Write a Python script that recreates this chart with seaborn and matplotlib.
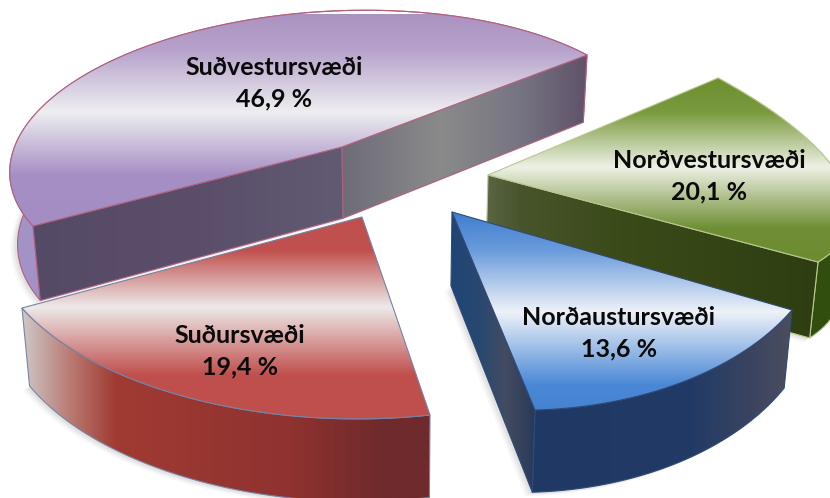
import numpy as np
import matplotlib
matplotlib.use('Agg')
import matplotlib.pyplot as plt
import seaborn as sns
from matplotlib.patches import Polygon

# ---- data ----
regions = ["Suðvestursvæði", "Suðursvæði", "Norðaustursvæði", "Norðvestursvæði"]
shares = [46.9, 19.4, 13.6, 20.1]

# ---- styling ----
start_angle = 43
apex_px = [(342, 147), (362, 217), (452, 212), (488, 175)]
tip1_px = [(587, 55), (22, 308), (535, 410), (818, 262)]
tip2_px = [(33, 226), (430, 415), (792, 310), (718, 78)]
midarc_px = [(185, 34), (190, 398), (680, 383), (846, 190)]
label_xy = [(274, 83), (240, 351), (619, 333), (709, 176)]
top_stops = [
    [(14, "#AB92C1"), (50, "#B7A2CB"), (112, "#EEEEF1"), (175, "#A68FC4"), (230, "#A48DC2")],
    [(217, "#C0504D"), (250, "#C0504D"), (307, "#EDEAEA"), (375, "#C0504D"), (420, "#BE4F4C")],
    [(212, "#3F7ECF"), (250, "#6B9BDC"), (312, "#EEF2F8"), (385, "#4A88D6"), (415, "#4583D2")],
    [(78, "#6D8F2E"), (112, "#7A9A3E"), (167, "#EEF1E6"), (228, "#708F35"), (265, "#6C8C30")],
]
edge_cols = ["#B0607F", "#7484A6", "#2F4A78", "#B9C78F"]
arc_stops = [
    [(-20, "#A797C9"), (60, "#A090C3")],
    [(20, "#CFCBCB"), (70, "#B97A72"), (115, "#A03B32"), (290, "#8F3230"), (380, "#6F2A2C"), (435, "#6E2A2C")],
    [(530, "#1F3864"), (690, "#213A66"), (750, "#3A4460"), (800, "#50505E")],
    [(700, "#2F4A12"), (860, "#33500F")],
]
flat_faces = [
    # (wedge, which tip, stops)
    (0, "tip2", [(30, "#554A65"), (200, "#5B4E6B"), (345, "#615B72")]),
    (0, "tip1", [(340, "#6E6B78"), (440, "#8A8A8A"), (520, "#777482"), (590, "#5E5068")]),
    (3, "tip1", [(485, "#5A6646"), (520, "#48552C"), (620, "#3A4A18"), (820, "#2E3E12")]),
    (2, "tip1", [(448, "#1E4478"), (480, "#294870"), (505, "#424C62"), (520, "#37435C"), (540, "#22365A")]),
]
draw_order = [0, 3, 1, 2]

sns.set_theme(style="white")
fig = plt.figure(figsize=(8.3, 4.98), dpi=100, facecolor="white")
ax = fig.add_axes([0, 0, 1, 1])

# The pie supplies each wedge's angles from the shares.
wedges, _ = ax.pie(shares, startangle=start_angle, counterclock=True)
angles = [(w.theta1, w.theta2) for w in wedges]
for w in wedges:
    w.remove()
ax.set(aspect="auto", xlim=(0, 830), ylim=(498, 0))
ax.axis("off")


def homography(src, dst):
    rows = []
    for (x, y), (u, v) in zip(src, dst):
        rows.append([x, y, 1, 0, 0, 0, -u * x, -u * y, -u])
        rows.append([0, 0, 0, x, y, 1, -v * x, -v * y, -v])
    return np.linalg.svd(np.array(rows))[2][-1].reshape(3, 3)


def project(H, t):
    t = np.radians(t)
    q = H @ np.vstack([np.cos(t), np.sin(t), np.ones_like(t)])
    return (q[:2] / q[2]).T


def extrude(p):
    p = np.atleast_2d(p)
    return np.column_stack([p[:, 0] + (400 - p[:, 0]) * 0.02, p[:, 1] + 65 + 0.042 * p[:, 1]])


def shaded(poly, stops, axis, z):
    lo, hi = stops[0][0], stops[-1][0]
    cmap = matplotlib.colors.LinearSegmentedColormap.from_list(
        "g", [((s - lo) / (hi - lo), c) for s, c in stops], N=256)
    patch = Polygon(poly, closed=True, transform=ax.transData, fc="none", ec="none")
    ax.add_patch(patch)
    grad = np.linspace(0, 1, 256)
    if axis == "y":
        img = grad[:, None]
        ext = (poly[:, 0].min() - 2, poly[:, 0].max() + 2, hi, lo)
    else:
        img = grad[None, :]
        ext = (lo, hi, poly[:, 1].max() + 2, poly[:, 1].min() - 2)
    im = ax.imshow(img, extent=ext, cmap=cmap, aspect="auto", zorder=z, vmin=0, vmax=1,
                   interpolation="bilinear", origin="upper" if axis == "y" else "lower")
    im.set_clip_path(patch)
    return patch


def outline(poly, col, z, lw=0.8):
    ax.add_patch(Polygon(poly, closed=True, fc="none", ec=col, lw=lw, zorder=z, joinstyle="round"))


z = 1
for i in draw_order:
    t1, t2 = angles[i]
    ref = [(0, 0), (np.cos(np.radians(t1)), np.sin(np.radians(t1))),
           (np.cos(np.radians(t2)), np.sin(np.radians(t2))),
           (np.cos(np.radians((t1 + t2) / 2)), np.sin(np.radians((t1 + t2) / 2)))]
    H = homography(ref, [apex_px[i], tip1_px[i], tip2_px[i], midarc_px[i]])
    arc = project(H, np.linspace(t1, t2, 200))
    apex = np.array([apex_px[i]], float)
    top = np.vstack([apex, arc])
    bottom_arc = extrude(arc)
    band = np.vstack([arc, bottom_arc[::-1]])
    low = np.vstack([extrude(apex), bottom_arc])

    # soft shadow
    for off, al in ((7, .04), (5, .06), (3, .08)):
        ax.add_patch(Polygon(low + [-off, off * .6], closed=True, fc="#555555", ec="none", alpha=al, zorder=z))
    z += 1
    shaded(band, arc_stops[i], "x", z)
    z += 1
    outline(band, edge_cols[i], z)
    z += 1
    for w, which, st in flat_faces:
        if w != i:
            continue
        tip = np.array([tip1_px[i] if which == "tip1" else tip2_px[i]], float)
        face = np.vstack([apex, tip, extrude(tip), extrude(apex)])
        shaded(face, st, "x", z)
        z += 1
        outline(face, edge_cols[i], z)
        z += 1
    shaded(top, top_stops[i], "y", z)
    z += 1
    outline(top, edge_cols[i], z)
    z += 1

for i, (x, y) in enumerate(label_xy):
    ax.text(x, y, f"{regions[i]}\n{shares[i]:.1f} %".replace(".", ","), ha="center", va="center",
            fontsize=18, fontweight="bold", family="Lato", color="#0A0A0A", linespacing=1.45, zorder=z + 1)

ax.set(xlim=(0, 830), ylim=(498, 0))
fig.savefig("out.png", dpi=100, facecolor="white")
